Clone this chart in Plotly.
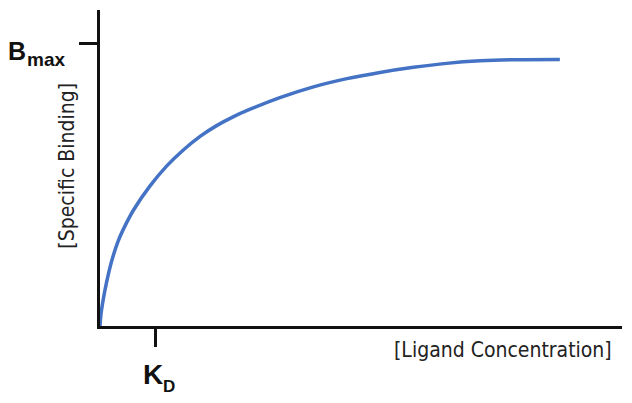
import plotly.graph_objects as go

# saturation binding curve, x in units of KD, y as fraction of Bmax
conc = [0, 0.02, 0.06, 0.12, 0.21, 0.33, 0.45, 0.61, 0.91, 1.21, 1.52, 1.82,
        2.12, 2.42, 2.73, 3.27, 3.88, 4.49, 5.09, 5.70, 6.30, 6.91, 7.51, 8.36]
binding = [0, 0.045, 0.095, 0.155, 0.228, 0.300, 0.352, 0.41, 0.495, 0.565, 0.623, 0.670,
           0.708, 0.739, 0.766, 0.807, 0.845, 0.874, 0.896, 0.914, 0.928, 0.937, 0.941, 0.942]

KD = 1.0
BMAX = 1.0
X_RANGE = [0, 9.49]
Y_RANGE = [0, 1.1166]

BOLD = "Liberation Sans, Arial, sans-serif"
NARROW = "Liberation Sans Narrow, DejaVu Sans Condensed, sans-serif"
INK = "#111111"

fig = go.Figure()
fig.add_trace(go.Scatter(
    x=conc, y=binding, mode="lines",
    line=dict(color="#4472C4", width=3.5, shape="spline", smoothing=1.0),
    hoverinfo="skip", showlegend=False, cliponaxis=False,
))

axis_style = dict(
    showgrid=False, zeroline=False, automargin=False,
    showline=True, linecolor=INK, linewidth=3,
    ticks="outside", ticklen=18, tickwidth=3, tickcolor=INK,
    showticklabels=False,
)

# page has an 8px body margin, so the figure is sized to fit the window
fig.update_layout(
    width=624, height=395,
    margin=dict(l=92, r=10, t=2, b=77),
    plot_bgcolor="white", paper_bgcolor="white",
    showlegend=False,
    xaxis=dict(range=X_RANGE, tickvals=[KD], **axis_style),
    yaxis=dict(range=Y_RANGE, tickvals=[BMAX], **axis_style),
)


def label(text, x, y, size, family=BOLD, color=INK, anchor="left", angle=0):
    fig.add_annotation(x=x, y=y, xref="paper", yref="paper", text=text,
                       showarrow=False, xanchor=anchor, yanchor="middle",
                       textangle=angle,
                       font=dict(family=family, size=size, color=color))


label("<b>B</b>", -0.180, 0.869, 25)
label("<b>max</b>", -0.143, 0.843, 19)
label("<b>K</b>", 0.0785, -0.155, 28)
label("<b>D</b>", 0.1170, -0.190, 17)

label("[Ligand Concentration]", 0.772, -0.076, 21, family=NARROW,
      color="#222222", anchor="center")
label("[Specific Binding]", -0.0623, 0.509, 21, family=NARROW,
      color="#222222", anchor="center", angle=-90)

fig.write_html("out.html")
